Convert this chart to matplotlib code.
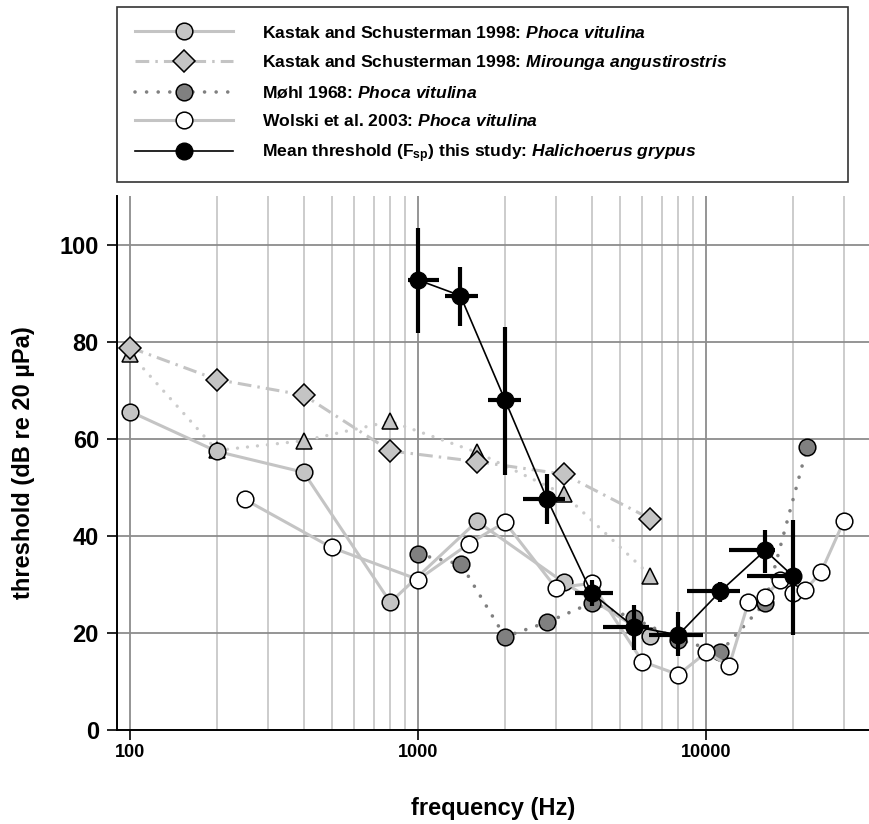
import matplotlib
matplotlib.use('Agg')
import matplotlib.pyplot as plt
import numpy as np

plt.rcParams['font.family'] = ['Liberation Sans', 'DejaVu Sans']
plt.rcParams['font.weight'] = 'bold'
plt.rcParams['mathtext.fontset'] = 'custom'
plt.rcParams['mathtext.rm'] = 'Liberation Sans:bold'
plt.rcParams['mathtext.bf'] = 'Liberation Sans:bold'
plt.rcParams['mathtext.it'] = 'Liberation Sans:bold:italic'

# Kastak and Schusterman 1998: Phoca vitulina
ks_phoca_f = [100, 200, 400, 800, 1600, 3200, 6400]
ks_phoca_db = [65.6, 57.4, 53.1, 26.3, 43.0, 30.4, 19.3]

# Kastak and Schusterman 1998: Mirounga angustirostris
ks_mir_f = [100, 200, 400, 800, 1600, 3200, 6400]
ks_mir_db = [78.8, 72.2, 69.0, 57.5, 55.3, 52.7, 43.5]

# unlabelled triangles (Kastak and Schusterman 1998)
ks_tri_f = [100, 200, 400, 800, 1600, 3200, 6400]
ks_tri_db = [77.5, 57.6, 59.6, 63.6, 57.2, 48.6, 31.8]

# Mohl 1968: Phoca vitulina
mohl_f = [1000, 1410, 2000, 2800, 4000, 5600, 8000, 11200, 16000, 22400]
mohl_db = [36.2, 34.1, 19.2, 22.2, 26.2, 23.0, 18.6, 16.1, 26.2, 58.3]

# Wolski et al. 2003: Phoca vitulina
wol_f = [250, 500, 1000, 1500, 2000, 3000, 4000, 6000, 8000, 10000, 12000,
         14000, 16000, 18000, 20000, 22000, 25000, 30000]
wol_db = [47.5, 37.6, 31.0, 38.4, 42.8, 29.3, 30.2, 14.1, 11.4, 16.0, 13.2,
          26.3, 27.5, 30.8, 28.2, 28.8, 32.5, 43.0]

# this study: Halichoerus grypus, mean threshold with ranges
gs_f = [1000, 1400, 2000, 2800, 4000, 5600, 8000, 11200, 16000, 20000]
gs_db = [92.7, 89.5, 68.0, 47.6, 28.2, 21.3, 19.6, 28.6, 37.0, 31.7]
gs_db_lo = [81.8, 83.2, 52.5, 42.4, 25.5, 16.5, 15.3, 26.4, 32.4, 19.6]
gs_db_hi = [103.4, 95.4, 83.0, 52.7, 31.0, 25.8, 24.4, 30.4, 41.2, 43.2]
gs_f_lo = [920, 1241, 1741, 2315, 3508, 4395, 6310, 8570, 11940, 13840]
gs_f_hi = [1176, 1607, 2278, 3230, 4743, 6310, 9770, 13130, 17380, 20000]


def lab(a, b):
    # plain bold text followed by bold italic species name
    return a + ' $\\mathit{' + b.replace(' ', r'\ ') + '}$'


light = '#c4c4c4'
fig = plt.figure(figsize=(8.7, 8.24), dpi=100)
ax = fig.add_axes([0.1345, 0.1141, 0.8655, 0.6479])

ax.plot(ks_tri_f, ks_tri_db, color='#cbcbcb', lw=2.4, ls=(0, (0.01, 3.0)),
        dash_capstyle='round', marker='^', ms=12, mfc='#c4c4c4', mec='k',
        mew=1.1, zorder=3)
l2, = ax.plot(ks_mir_f, ks_mir_db, color=light, lw=2.2, ls=(0, (4.5, 2, 0.8, 2)),
              marker='D', ms=11, mfc='#c4c4c4', mec='k', mew=1.1, zorder=4,
              label=lab('Kastak and Schusterman 1998:', 'Mirounga angustirostris'))
l1, = ax.plot(ks_phoca_f, ks_phoca_db, color=light, lw=2.2, marker='o', ms=12,
              mfc='#c4c4c4', mec='k', mew=1.1, zorder=5,
              label=lab('Kastak and Schusterman 1998:', 'Phoca vitulina'))
l3, = ax.plot(mohl_f, mohl_db, color='#808080', lw=2.6, ls=(0, (0.01, 3.2)),
              dash_capstyle='round', marker='o', ms=12, mfc='#808080',
              mec='k', mew=1.1, zorder=6,
              label=lab('Møhl 1968:', 'Phoca vitulina'))
l4, = ax.plot(wol_f, wol_db, color=light, lw=2.2, marker='o', ms=12,
              mfc='white', mec='k', mew=1.1, zorder=7,
              label=lab('Wolski et al. 2003:', 'Phoca vitulina'))

gs_f_arr = np.array(gs_f)
gs_db_arr = np.array(gs_db)
ax.errorbar(gs_f, gs_db,
            xerr=[gs_f_arr - np.array(gs_f_lo), np.array(gs_f_hi) - gs_f_arr],
            yerr=[gs_db_arr - np.array(gs_db_lo), np.array(gs_db_hi) - gs_db_arr],
            fmt='none', ecolor='k', elinewidth=3, capsize=0, zorder=8)
l5, = ax.plot(gs_f, gs_db, color='k', lw=1.2, marker='o', ms=12, mfc='k',
              mec='k', zorder=9,
              label=lab('Mean threshold (F$_\\mathrm{sp}$) this study:',
                        'Halichoerus grypus'))

ax.set_xscale('log')
ax.set_xlim(90, 37000)
ax.set_ylim(0, 110)
ax.set_yticks([0, 20, 40, 60, 80, 100])
ax.set_xticks([100, 1000, 10000])
ax.set_xticklabels(['100', '1000', '10000'])
ax.xaxis.set_minor_locator(matplotlib.ticker.LogLocator(base=10, subs=np.arange(2, 10)))
ax.xaxis.set_minor_formatter(matplotlib.ticker.NullFormatter())
ax.tick_params(axis='x', which='minor', length=0)
ax.tick_params(axis='x', which='major', length=7, width=1.2, labelsize=13, pad=3)
ax.tick_params(axis='y', length=7, width=1.2, labelsize=17, pad=6)

ax.grid(True, which='minor', axis='x', color='#c8c8c8', lw=1.3)
ax.grid(True, which='major', axis='x', color='#8c8c8c', lw=1.3)
ax.grid(True, which='major', axis='y', color='#8c8c8c', lw=1.3)
ax.set_axisbelow(True)
ax.spines['top'].set_visible(False)
ax.spines['right'].set_visible(False)
ax.spines['left'].set_linewidth(1.4)
ax.spines['bottom'].set_linewidth(1.4)

ax.set_xlabel('frequency (Hz)', fontsize=17, fontweight='bold', labelpad=26)
ax.set_ylabel('threshold (dB re 20 µPa)', fontsize=17, fontweight='bold', labelpad=18)

leg = fig.legend(handles=[l1, l2, l3, l4, l5], loc='lower left',
                 bbox_to_anchor=(0.1345, 0.779, 0.840, 0.2136), mode='expand',
                 fontsize=12.6, frameon=True, fancybox=False, edgecolor='k',
                 handlelength=5.6, handletextpad=1.7, labelspacing=0.72,
                 borderpad=1.0, borderaxespad=0)
leg.get_frame().set_linewidth(1.2)

fig.savefig('out.png', dpi=100)
